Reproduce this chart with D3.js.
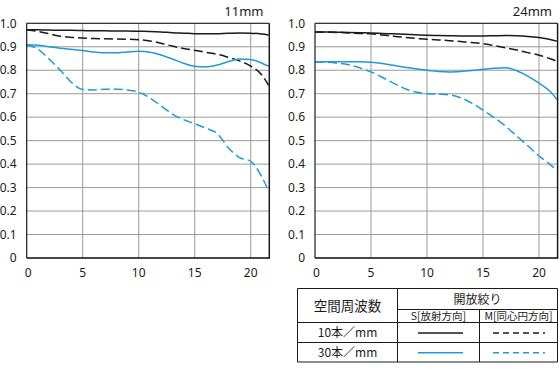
<!DOCTYPE html>
<html>
<head>
<meta charset="utf-8">
<title>MTF</title>
<script src="https://d3js.org/d3.v7.min.js"></script>
<style>
  body { margin: 0; background: #fff; }
  svg text { font-family: "Noto Sans", "Open Sans", sans-serif; fill: #1a1a1a; }
  svg text.jp { font-family: "Noto Sans CJK JP", "Noto Sans", sans-serif; }
</style>
</head>
<body>
<div id="output"></div>
<script>
// image height (mm from centre) shared by every curve
var xPos = [0,1,2,3,4,5,6,7,8,9,10,11,12,13,14,15,16,17,18,19,20,21,21.6];

// 11mm
var s10_11 = [0.973,0.972,0.971,0.970,0.970,0.969,0.968,0.968,0.967,0.967,0.966,0.965,0.963,0.960,0.958,0.956,0.955,0.956,0.958,0.959,0.958,0.954,0.950];
var m10_11 = [0.973,0.965,0.955,0.945,0.940,0.937,0.935,0.934,0.933,0.932,0.930,0.925,0.915,0.903,0.893,0.885,0.876,0.868,0.855,0.840,0.818,0.780,0.735];
var s30_11 = [0.909,0.906,0.900,0.894,0.889,0.884,0.878,0.874,0.874,0.878,0.881,0.877,0.865,0.848,0.830,0.817,0.814,0.822,0.837,0.848,0.846,0.830,0.817];
var m30_11 = [0.909,0.890,0.848,0.800,0.748,0.718,0.716,0.719,0.719,0.716,0.707,0.682,0.648,0.613,0.590,0.572,0.553,0.531,0.470,0.428,0.412,0.345,0.285];

// 24mm
var s10_24 = [0.963,0.963,0.962,0.961,0.960,0.959,0.957,0.955,0.953,0.951,0.949,0.948,0.947,0.946,0.946,0.946,0.947,0.948,0.947,0.944,0.939,0.931,0.924];
var m10_24 = [0.963,0.962,0.961,0.959,0.957,0.955,0.950,0.945,0.940,0.936,0.932,0.929,0.926,0.922,0.918,0.913,0.905,0.896,0.886,0.875,0.864,0.849,0.838];
var s30_24 = [0.835,0.836,0.836,0.836,0.836,0.834,0.829,0.821,0.813,0.806,0.800,0.795,0.793,0.795,0.799,0.804,0.809,0.811,0.798,0.775,0.745,0.709,0.675];
var m30_24 = [0.835,0.834,0.830,0.823,0.810,0.793,0.770,0.745,0.722,0.707,0.700,0.698,0.695,0.683,0.660,0.630,0.598,0.562,0.520,0.478,0.435,0.398,0.373];

var xTicks = [0,5,10,15,20];
var yTicks = [0,0.1,0.2,0.3,0.4,0.5,0.6,0.7,0.8,0.9,1.0];
var titles = ["11mm", "24mm"];

// legend table texts
var freqHead = "空間周波数";
var apHead = "開放絞り";
var dirHeads = ["S[放射方向]", "M[同心円方向]"];
var freqRows = ["10本／mm", "30本／mm"];

var blue = "#1e9bd7", black = "#1a1a1a";

var w = 560, h = 373;
var svg = d3.select("#output").append("svg")
    .attr("width", w)
    .attr("height", h);

var plotTop = 23.3, plotBottom = 258;
var lefts = [26.7, 315];
var pw = 242.6;

var y = d3.scaleLinear().domain([0, 1]).range([plotBottom, plotTop]);

var series = [
    [s10_11, m10_11, s30_11, m30_11],
    [s10_24, m10_24, s30_24, m30_24]
];
var styles = [
    {color: black, dash: null},
    {color: black, dash: "9,4"},
    {color: blue, dash: null},
    {color: blue, dash: "9,4"}
];

lefts.forEach(function(left, p) {
    var x = d3.scaleLinear().domain([0, 21.66]).range([left, left + pw]);

    var g = svg.append("g");

    // grid
    g.selectAll(".hg").data(yTicks).enter().append("line")
        .attr("x1", left).attr("x2", left + pw)
        .attr("y1", function(d){ return y(d); })
        .attr("y2", function(d){ return y(d); })
        .attr("stroke", "#9a9a9a").attr("stroke-width", 1);
    g.selectAll(".vg").data(xTicks.slice(1)).enter().append("line")
        .attr("x1", function(d){ return x(d); })
        .attr("x2", function(d){ return x(d); })
        .attr("y1", plotTop).attr("y2", plotBottom)
        .attr("stroke", "#9a9a9a").attr("stroke-width", 1);

    // curves
    series[p].forEach(function(vals, i) {
        var line = d3.line()
            .x(function(d, k){ return x(xPos[k]); })
            .y(function(d){ return y(d); })
            .curve(d3.curveMonotoneX);
        g.append("path")
            .datum(vals)
            .attr("d", line)
            .attr("fill", "none")
            .attr("stroke", styles[i].color)
            .attr("stroke-width", 1.5)
            .attr("stroke-dasharray", styles[i].dash);
    });

    // frame
    g.append("line").attr("x1", left).attr("x2", left + pw).attr("y1", plotTop).attr("y2", plotTop)
        .attr("stroke", black).attr("stroke-width", 1);
    g.append("line").attr("x1", left).attr("x2", left).attr("y1", plotTop).attr("y2", plotBottom)
        .attr("stroke", black).attr("stroke-width", 1.2);
    g.append("line").attr("x1", left + pw).attr("x2", left + pw).attr("y1", plotTop).attr("y2", plotBottom + 0.7)
        .attr("stroke", black).attr("stroke-width", 1.5);
    g.append("line").attr("x1", left).attr("x2", left + pw).attr("y1", plotBottom).attr("y2", plotBottom)
        .attr("stroke", black).attr("stroke-width", 1.5);

    // tick labels
    g.selectAll(".yl").data(yTicks).enter().append("text")
        .attr("x", left - 10)
        .attr("y", function(d){ return y(d); })
        .attr("dy", "0.35em")
        .attr("text-anchor", "end")
        .attr("font-size", 12)
        .text(function(d){ return d === 0 ? "0" : d.toFixed(1); });
    g.selectAll(".xl").data(xTicks).enter().append("text")
        .attr("x", function(d){ return x(d) + (d === 0 ? 1.5 : 0); })
        .attr("y", 276.5)
        .attr("text-anchor", "middle")
        .attr("font-size", 12)
        .text(function(d){ return d; });

    g.append("text")
        .attr("x", p === 0 ? 263.5 : 552)
        .attr("y", 15.5)
        .attr("text-anchor", "end")
        .attr("font-size", 13)
        .text(titles[p]);
});

// legend table
var tL = 297.5, c1 = 397.5, c2 = 479.5, tR = 557.5;
var r0 = 288.5, r1 = 309.5, r2 = 322.5, r3 = 342.5, r4 = 362;
var leg = svg.append("g");
var segs = [
    [tL, r0, tR, r0], [tL, r4, tR, r4], [tL, r0, tL, r4], [tR, r0, tR, r4],
    [c1, r0, c1, r4], [c1, r1, tR, r1], [c2, r1, c2, r4],
    [tL, r2, tR, r2], [tL, r3, tR, r3]
];
leg.selectAll("line.tb").data(segs).enter().append("line")
    .attr("x1", function(d){ return d[0]; }).attr("y1", function(d){ return d[1]; })
    .attr("x2", function(d){ return d[2]; }).attr("y2", function(d){ return d[3]; })
    .attr("stroke", black).attr("stroke-width", 1);

leg.append("text").attr("class", "jp")
    .attr("x", (tL + c1) / 2).attr("y", (r0 + r2) / 2).attr("dy", "0.38em")
    .attr("text-anchor", "middle").attr("font-size", 13.5).text(freqHead);
leg.append("text").attr("class", "jp")
    .attr("x", (c1 + tR) / 2).attr("y", (r0 + r1) / 2).attr("dy", "0.38em")
    .attr("text-anchor", "middle").attr("font-size", 12).text(apHead);
leg.selectAll("text.dir").data(dirHeads).enter().append("text")
    .attr("class", "jp")
    .attr("x", function(d, i){ return i === 0 ? (c1 + c2) / 2 : (c2 + tR) / 2; })
    .attr("y", (r1 + r2) / 2).attr("dy", "0.38em")
    .attr("text-anchor", "middle").attr("font-size", 10.5)
    .text(function(d){ return d; });
leg.selectAll("text.fr").data(freqRows).enter().append("text")
    .attr("class", "jp")
    .attr("x", (tL + c1) / 2)
    .attr("y", function(d, i){ return i === 0 ? (r2 + r3) / 2 : (r3 + r4) / 2; })
    .attr("dy", "0.38em")
    .attr("text-anchor", "middle").attr("font-size", 12)
    .text(function(d){ return d; });

// legend samples
styles.forEach(function(s, i) {
    var row = i < 2 ? 0 : 1;
    var col = i % 2;
    var yy = row === 0 ? (r2 + r3) / 2 + 0.5 : (r3 + r4) / 2 + 0.5;
    leg.append("line")
        .attr("x1", col === 0 ? 418 : 493)
        .attr("x2", col === 0 ? 463 : 545)
        .attr("y1", yy).attr("y2", yy)
        .attr("stroke", s.color).attr("stroke-width", 1.3)
        .attr("stroke-dasharray", s.dash ? "6,4" : null);
});
</script>
</body>
</html>
